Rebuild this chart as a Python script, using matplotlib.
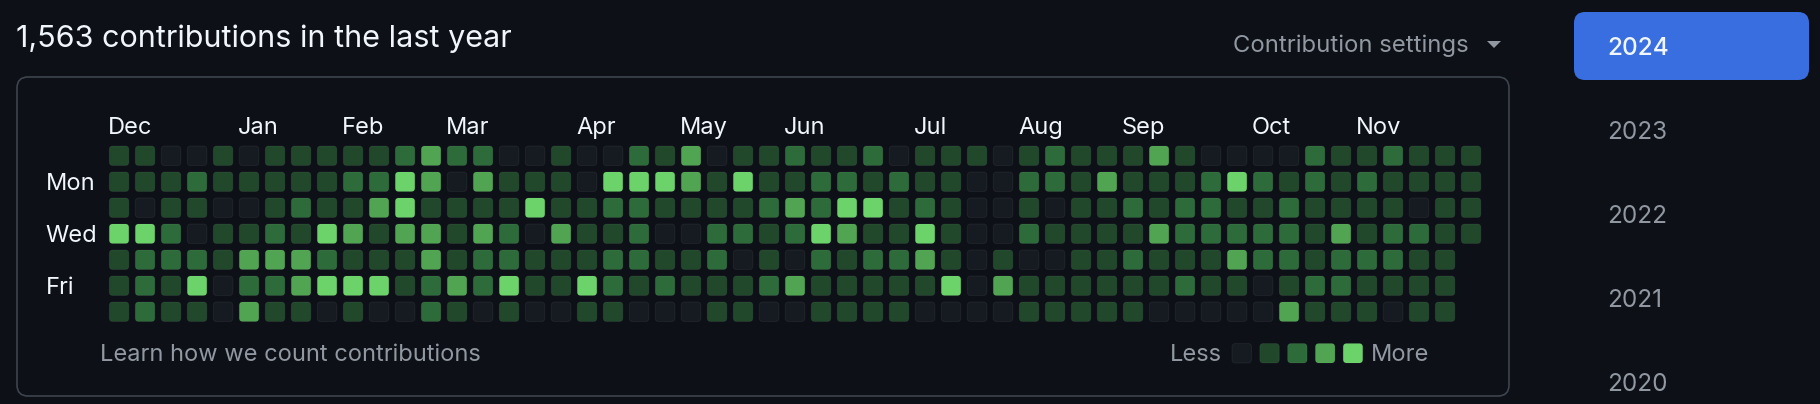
import matplotlib.pyplot as plt
from matplotlib.patches import FancyBboxPatch, Polygon

plt.rcParams['font.family'] = ['Inter', 'DejaVu Sans']

# contribution level (0-4) per week, one list per weekday row
sun = [1, 1, 0, 0, 1, 0, 1, 1, 1, 1, 1, 2, 3, 2, 2, 0, 0, 1, 0, 0, 2, 1, 3, 0, 1, 1, 2,
       1, 1, 2, 0, 1, 1, 1, 0, 1, 2, 1, 1, 1, 3, 1, 0, 0, 0, 0, 2, 1, 1, 2, 1, 1, 1]
mon = [1, 1, 1, 2, 1, 1, 1, 1, 1, 2, 2, 4, 3, 0, 3, 1, 1, 1, 0, 4, 4, 4, 3, 1, 4, 1, 1,
       2, 2, 1, 2, 1, 1, 0, 0, 2, 2, 1, 3, 1, 1, 1, 2, 4, 2, 1, 2, 1, 2, 1, 1, 1, 1]
tue = [1, 0, 1, 1, 0, 0, 1, 2, 1, 1, 3, 4, 1, 1, 1, 1, 4, 1, 1, 2, 2, 1, 1, 1, 1, 2, 3,
       2, 4, 4, 1, 2, 1, 0, 0, 1, 0, 1, 1, 2, 1, 2, 2, 1, 1, 2, 1, 1, 1, 1, 0, 1, 1]
wed = [4, 4, 2, 0, 1, 1, 2, 1, 4, 3, 1, 3, 3, 1, 3, 2, 0, 3, 1, 1, 2, 0, 0, 2, 2, 1, 2,
       4, 3, 1, 1, 4, 1, 0, 0, 2, 1, 1, 1, 1, 3, 2, 2, 2, 2, 2, 1, 3, 1, 2, 2, 1, 1]
thu = [1, 2, 2, 2, 1, 3, 3, 3, 2, 1, 1, 1, 3, 1, 2, 2, 1, 1, 1, 2, 2, 1, 1, 2, 0, 1, 0,
       2, 1, 2, 2, 3, 1, 0, 1, 0, 0, 1, 1, 2, 1, 1, 1, 3, 2, 2, 1, 2, 2, 2, 1, 1]
fri = [1, 2, 1, 4, 0, 2, 2, 3, 4, 4, 4, 1, 2, 3, 2, 4, 1, 1, 4, 2, 1, 2, 1, 1, 1, 2, 3,
       1, 1, 1, 1, 1, 4, 0, 3, 1, 1, 1, 1, 1, 1, 2, 1, 1, 0, 1, 2, 2, 1, 1, 1, 1]
sat = [1, 2, 1, 1, 0, 3, 1, 1, 0, 1, 0, 0, 2, 1, 0, 1, 0, 0, 1, 1, 0, 0, 0, 1, 1, 0, 0,
       1, 1, 1, 1, 0, 0, 0, 0, 1, 1, 1, 1, 1, 0, 0, 0, 0, 0, 3, 1, 1, 1, 0, 1, 1]
weekdays = [sun, mon, tue, wed, thu, fri, sat]

months = ["Dec", "Jan", "Feb", "Mar", "Apr", "May", "Jun", "Jul", "Aug", "Sep", "Oct", "Nov"]
month_week = [0, 5, 9, 13, 18, 22, 26, 31, 35, 39, 44, 48]
day_labels = {1: "Mon", 3: "Wed", 5: "Fri"}
years = ["2024", "2023", "2022", "2021", "2020"]
total = 1563

bg = '#0d1117'
level_colors = ['#161b22', '#21482b', '#2e6b3a', '#51a552', '#6bd369']
white = '#f0f6fc'
gray = '#9198a1'

W, H = 1820, 404
fig = plt.figure(figsize=(W / 100, H / 100), dpi=100, facecolor=bg)

# background layer in pixel coordinates
bax = fig.add_axes([0, 0, 1, 1])
bax.set_xlim(0, W)
bax.set_ylim(H, 0)
bax.axis('off')
bax.set_facecolor(bg)

bax.text(16, 47, f"{total:,} contributions in the last year", color=white,
         fontsize=22, va='baseline', ha='left')
bax.text(1233, 52, "Contribution settings", color=gray, fontsize=17.2,
         va='baseline', ha='left')
bax.add_patch(Polygon([[1487, 41], [1501, 41], [1494, 48]], closed=True,
                      color=gray, lw=0))

bax.add_patch(FancyBboxPatch((17, 77), 1492, 319,
                             boxstyle="round,pad=0,rounding_size=11",
                             fc='none', ec='#3d444d', lw=1.2))

bax.text(100, 361, "Learn how we count contributions", color=gray,
         fontsize=17, va='baseline', ha='left')

# legend
bax.text(1222, 361, "Less", color=gray, fontsize=17, va='baseline', ha='right')
for i, c in enumerate(level_colors):
    x0 = 1232 + i * 27.8
    bax.add_patch(FancyBboxPatch((x0, 343.5), 19.5, 19.5,
                                 boxstyle="round,pad=0,rounding_size=3.5",
                                 fc=c, ec=(1, 1, 1, 0.05), lw=0.8))
bax.text(1371, 361, "More", color=gray, fontsize=17, va='baseline', ha='left')

# year selector
bax.add_patch(FancyBboxPatch((1574, 12), 235, 68,
                             boxstyle="round,pad=0,rounding_size=11",
                             fc='#396ee0', ec='none'))
for i, y in enumerate(years):
    bax.text(1607, 55 + i * 84, y, color=white if i == 0 else gray,
             fontsize=17.5, va='baseline', ha='left',
             fontweight='medium' if i == 0 else 'normal')

# heatmap layer: one data unit per week / weekday (26 px)
pitch = 26
left, top = 106.05, 142.75
ax = fig.add_axes([left / W, (H - top - 7 * pitch) / H, 53 * pitch / W, 7 * pitch / H])
ax.set_xlim(0, 53)
ax.set_ylim(7, 0)
ax.axis('off')

cell = 0.75
off = (1 - cell) / 2
for row, levels in enumerate(weekdays):
    for week, lv in enumerate(levels):
        ax.add_patch(FancyBboxPatch((week + off, row + off), cell, cell,
                                    boxstyle="round,pad=0,rounding_size=0.13",
                                    fc=level_colors[lv], ec=(1, 1, 1, 0.05), lw=0.8))

for name, wk in zip(months, month_week):
    ax.text(wk + off - 0.05, -0.34, name, color=white, fontsize=17,
            va='baseline', ha='left')

for row, name in day_labels.items():
    ax.text(-2.33, row + 0.8, name, color=white, fontsize=17,
            va='baseline', ha='left')

fig.savefig('out.png', dpi=100, facecolor=bg)
